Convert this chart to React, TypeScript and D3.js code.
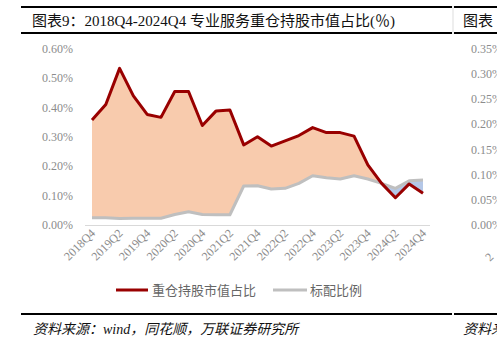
import React from "react";
import * as d3 from "d3";

const quarters = [
  "2018Q4","2019Q1","2019Q2","2019Q3","2019Q4","2020Q1","2020Q2","2020Q3","2020Q4",
  "2021Q1","2021Q2","2021Q3","2021Q4","2022Q1","2022Q2","2022Q3","2022Q4",
  "2023Q1","2023Q2","2023Q3","2023Q4","2024Q1","2024Q2","2024Q3","2024Q4",
];
const heavyHolding = [
  0.358, 0.411, 0.534, 0.44, 0.377, 0.367, 0.455, 0.455, 0.339,
  0.389, 0.392, 0.273, 0.301, 0.269, 0.287, 0.305, 0.332,
  0.315, 0.315, 0.303, 0.205, 0.142, 0.093, 0.14, 0.108,
];
const standardRatio = [
  0.025, 0.025, 0.022, 0.023, 0.023, 0.023, 0.036, 0.045, 0.036,
  0.035, 0.035, 0.133, 0.134, 0.123, 0.125, 0.142, 0.168,
  0.161, 0.157, 0.168, 0.157, 0.142, 0.125, 0.151, 0.153,
];
const yTicks = [0, 0.1, 0.2, 0.3, 0.4, 0.5, 0.6];
const rightTicks = [0, 0.05, 0.1, 0.15, 0.2, 0.25, 0.3, 0.35];
const titleText = "图表9：2018Q4-2024Q4 专业服务重仓持股市值占比(％)";
const sourceText = "资料来源：wind，同花顺，万联证券研究所";
const legendLabels = ["重仓持股市值占比", "标配比例"];

const SERIF = "'Liberation Serif','Times New Roman','Noto Sans CJK SC',serif";

export default function App() {
  const W = 497, H = 351;
  const x = d3.scalePoint<string>().domain(quarters).range([92, 423]);
  const y = d3.scaleLinear().domain([0, 0.6]).range([225, 49]);
  const yR = d3.scaleLinear().domain([0, 0.35]).range([225, 49]);
  const idx = quarters.map((_, i) => i);

  const redLine = d3.line<number>().x(i => x(quarters[i])!).y(i => y(heavyHolding[i]));
  const grayLine = d3.line<number>().x(i => x(quarters[i])!).y(i => y(standardRatio[i]));
  const band = d3.area<number>()
    .x(i => x(quarters[i])!)
    .y0(i => y(standardRatio[i]))
    .y1(i => y(heavyHolding[i]));
  const aboveGray = d3.area<number>()
    .x(i => x(quarters[i])!)
    .y0(i => y(standardRatio[i]))
    .y1(0);
  const belowGray = d3.area<number>()
    .x(i => x(quarters[i])!)
    .y0(i => y(standardRatio[i]))
    .y1(H);

  const labelQ = quarters.filter((_, i) => i % 2 === 0);

  return (
    <svg width={W} height={H} style={{ position: "absolute", left: 0, top: 0, background: "#fff" }}>
      <defs>
        <clipPath id="clipAbove"><path d={aboveGray(idx)!} /></clipPath>
        <clipPath id="clipBelow"><path d={belowGray(idx)!} /></clipPath>
      </defs>
      {/* title lines */}
      <line x1={21} x2={452} y1={7} y2={7} stroke="#000" strokeWidth={2} />
      <line x1={454} x2={497} y1={7} y2={7} stroke="#000" strokeWidth={2} />
      <line x1={21} x2={452} y1={33} y2={33} stroke="#000" strokeWidth={2} />
      <line x1={454} x2={497} y1={33} y2={33} stroke="#000" strokeWidth={2} />
      <line x1={453} x2={453} y1={6} y2={34} stroke="#ddd" strokeWidth={1} />
      <text x={32} y={26} fontFamily={SERIF} fontSize={15} fill="#111">{titleText}</text>
      <text x={463} y={26} fontFamily={SERIF} fontSize={15} fill="#111">图表</text>

      {/* y ticks */}
      {yTicks.map(t => (
        <text key={t} x={73} y={y(t) + 4} textAnchor="end" fontFamily={SERIF} fontSize={12} fill="#8c8c8c">
          {t.toFixed(2) + "%"}
        </text>
      ))}
      {rightTicks.map(t => (
        <text key={"r" + t} x={471} y={yR(t) + 4} fontFamily={SERIF} fontSize={12} fill="#8c8c8c">
          {t.toFixed(2) + "%"}
        </text>
      ))}
      <text x={490} y={262} fontFamily={SERIF} fontSize={12} fill="#8c8c8c" transform="rotate(-45 490 262)">2</text>

      {/* areas */}
      <path d={band(idx)!} fill="#F8CBAD" clipPath="url(#clipAbove)" />
      <path d={band(idx)!} fill="#B4C7E7" clipPath="url(#clipBelow)" />

      {/* baseline */}
      <line x1={85} x2={430} y1={225.5} y2={225.5} stroke="#d9d9d9" strokeWidth={1} />

      <path d={grayLine(idx)!} fill="none" stroke="#BFBFBF" strokeWidth={3} strokeLinejoin="round" />
      <path d={redLine(idx)!} fill="none" stroke="#990000" strokeWidth={3} strokeLinejoin="round" />

      {/* x labels */}
      {labelQ.map(q => {
        const px = x(q)! + 4, py = 234;
        return (
          <text key={q} x={px} y={py} textAnchor="end" fontFamily={SERIF} fontSize={12} fill="#8c8c8c"
            transform={`rotate(-45 ${px} ${py})`}>{q}</text>
        );
      })}

      {/* legend */}
      <line x1={116} x2={148} y1={290} y2={290} stroke="#990000" strokeWidth={3} />
      <text x={152} y={294.5} fontFamily={SERIF} fontSize={13} fill="#666">{legendLabels[0]}</text>
      <line x1={273} x2={307} y1={290} y2={290} stroke="#BFBFBF" strokeWidth={3} />
      <text x={310} y={294.5} fontFamily={SERIF} fontSize={13} fill="#666">{legendLabels[1]}</text>

      {/* footer */}
      <line x1={21} x2={452} y1={314} y2={314} stroke="#000" strokeWidth={2} />
      <line x1={454} x2={497} y1={314} y2={314} stroke="#000" strokeWidth={2} />
      <text x={33} y={334} fontFamily={SERIF} fontSize={14} fontStyle="italic" fill="#111">{sourceText}</text>
      <text x={463} y={334} fontFamily={SERIF} fontSize={14} fontStyle="italic" fill="#111">资料来</text>
    </svg>
  );
}
